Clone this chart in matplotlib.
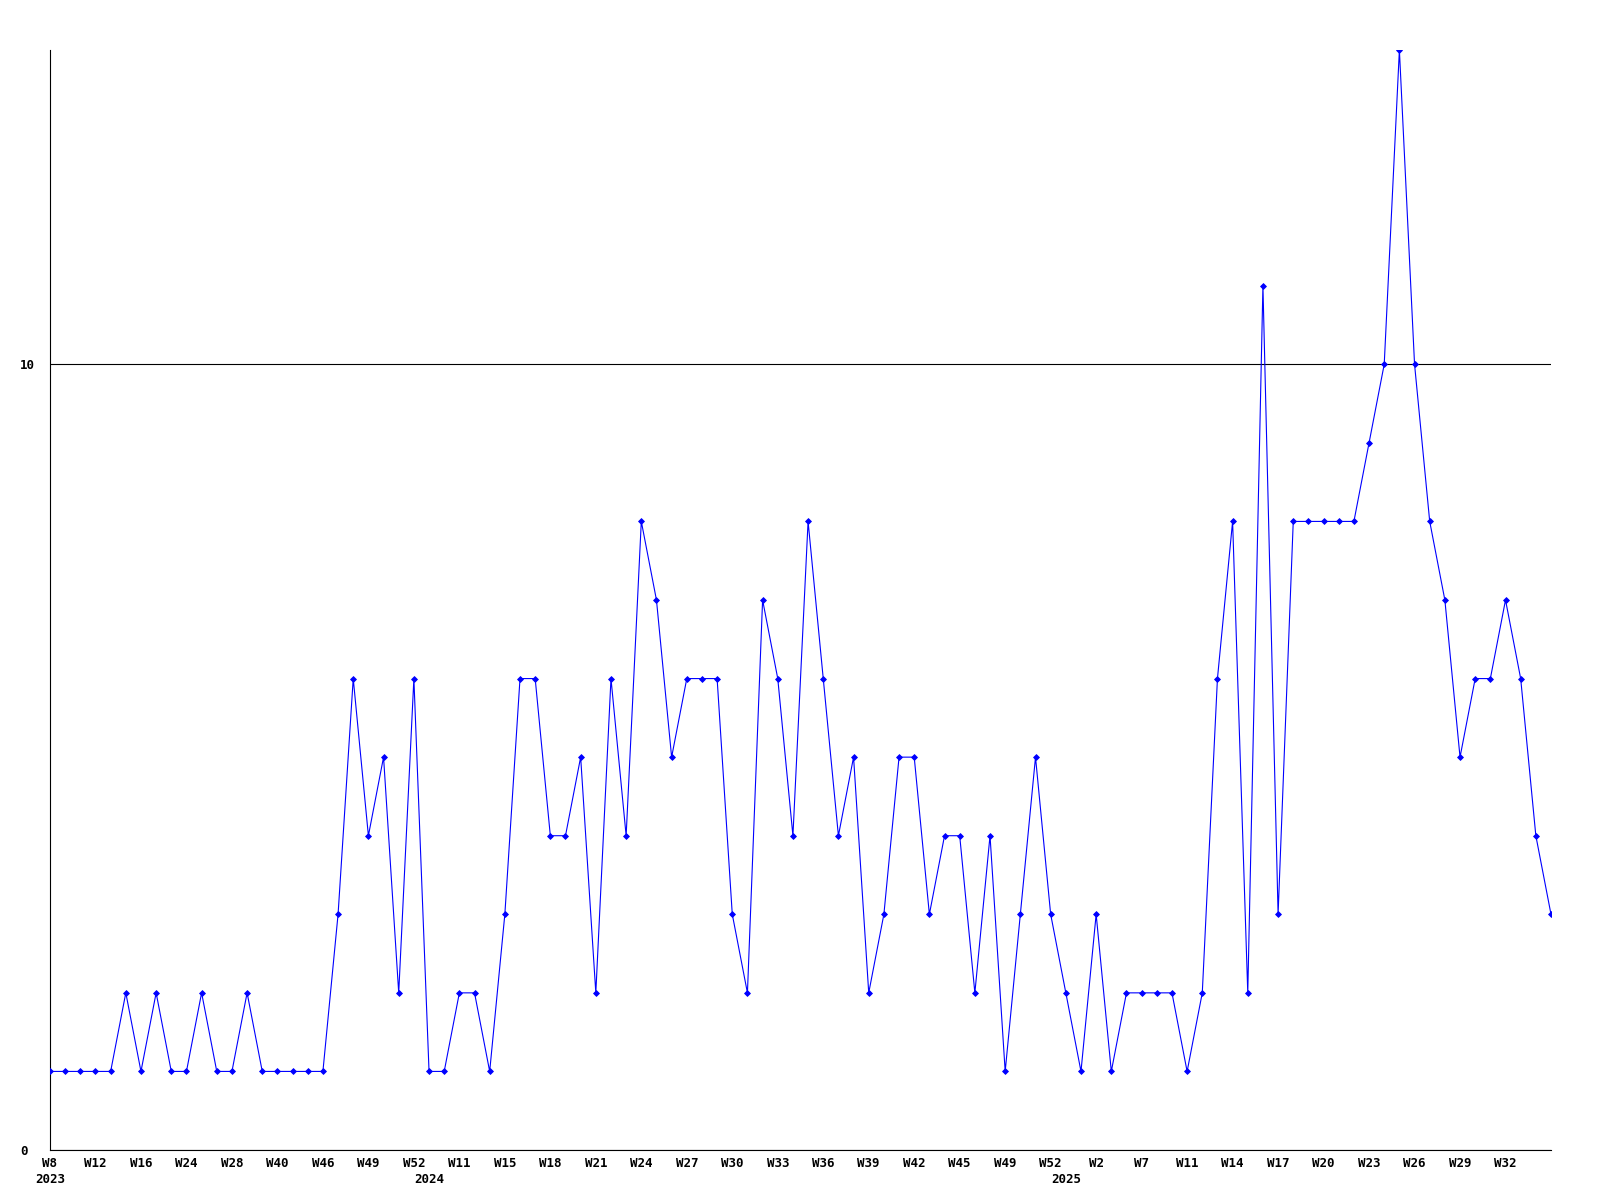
import matplotlib
matplotlib.use("Agg")
import matplotlib.pyplot as plt
import numpy as np

# weekly counts, one entry per plotted point
values = [1, 1, 1, 1, 1, 2, 1, 2, 1, 1,
          2, 1, 1, 2, 1, 1, 1, 1, 1, 3,
          6, 4, 5, 2, 6, 1, 1, 2, 2, 1,
          3, 6, 6, 4, 4, 5, 2, 6, 4, 8,
          7, 5, 6, 6, 6, 3, 2, 7, 6, 4,
          8, 6, 4, 5, 2, 3, 5, 5, 3, 4,
          4, 2, 4, 1, 3, 5, 3, 2, 1, 3,
          1, 2, 2, 2, 2, 1, 2, 6, 8, 2,
          11, 3, 8, 8, 8, 8, 8, 9, 10, 14,
          10, 8, 7, 5, 6, 6, 7, 6, 4, 3]

# every third point gets a week label
week_labels = ["W8", "W12", "W16", "W24", "W28", "W40", "W46", "W49", "W52",
               "W11", "W15", "W18", "W21", "W24", "W27", "W30", "W33", "W36",
               "W39", "W42", "W45", "W49", "W52",
               "W2", "W7", "W11", "W14", "W17", "W20", "W23", "W26", "W29", "W32"]

# first point of each year
year_labels = ["2023", "2024", "2025"]
year_index = [0, 25, 67]

y_ticks = [0, 10]

font = dict(family="DejaVu Sans Mono", weight="bold", size=9)

x = np.arange(len(values))

fig = plt.figure(figsize=(16, 12), dpi=100)
ax = fig.add_axes([50 / 1600, 50 / 1200, 1501 / 1600, 1100 / 1200])

ax.plot(x, values, color="#0000ff", linewidth=0.8, marker="D",
        markersize=3, markeredgewidth=0.6, zorder=3)

ax.set_xlim(0, len(values) - 1)
ax.set_ylim(0, max(values))

ax.set_yticks(y_ticks)
ax.set_yticklabels([str(v) for v in y_ticks], fontdict=font)
ax.yaxis.grid(True, color="black", linewidth=0.8)
ax.set_axisbelow(True)
ax.tick_params(axis="y", length=0, pad=21.5)
for lbl in ax.get_yticklabels():
    lbl.set_horizontalalignment("left")

tick_pos = x[:len(week_labels) * 3:3]
ax.set_xticks(tick_pos)
ax.set_xticklabels(week_labels, fontdict=font)
ax.tick_params(axis="x", length=0, pad=5)

for lab, idx in zip(year_labels, year_index):
    ax.annotate(lab, xy=(idx, 0), xycoords=ax.get_xaxis_transform(),
                xytext=(0, -16.5), textcoords="offset points",
                ha="center", va="top", **font)

for side in ["top", "right"]:
    ax.spines[side].set_visible(False)
for side in ["left", "bottom"]:
    ax.spines[side].set_color("black")
    ax.spines[side].set_linewidth(0.8)

fig.savefig("out.png", dpi=100)
